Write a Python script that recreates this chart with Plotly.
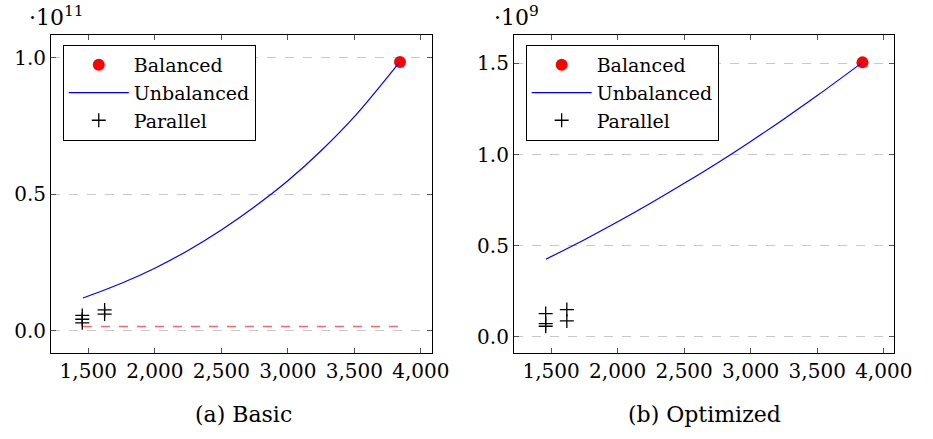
import plotly.graph_objects as go

# ---- data (y in units of the axis multiplier) ----
basic_unbal_x = [1460, 1750, 2000, 2250, 2500, 2750, 3000, 3250, 3500, 3840]
basic_unbal_y = [0.121, 0.175, 0.23, 0.295, 0.37, 0.455, 0.55, 0.66, 0.785, 0.985]
basic_bal_x = [3843]
basic_bal_y = [0.985]
basic_par_x = [1455, 1455, 1455, 1623, 1623]
basic_par_y = [0.057, 0.043, 0.030, 0.077, 0.062]
basic_ref_x = [1460, 3845]
basic_ref_y = [0.016, 0.016]

opt_unbal_x = [1460, 1750, 2000, 2250, 2500, 2750, 3000, 3250, 3500, 3840]
opt_unbal_y = [0.426, 0.533, 0.631, 0.734, 0.842, 0.954, 1.072, 1.195, 1.323, 1.505]
opt_bal_x = [3840]
opt_bal_y = [1.505]
opt_par_x = [1459, 1459, 1459, 1618, 1618]
opt_par_y = [0.128, 0.0735, 0.0587, 0.150, 0.0878]

W, H = 933, 439
FONT = "DejaVu Serif"

fig = go.Figure()

def add_panel(xa, ya, leg, bx, by, ux, uy, px, py):
    fig.add_trace(go.Scatter(x=bx, y=by, mode="markers", name="Balanced",
                             marker=dict(color="red", size=12), xaxis=xa, yaxis=ya, legend=leg))
    fig.add_trace(go.Scatter(x=ux, y=uy, mode="lines", name="Unbalanced",
                             line=dict(color="blue", width=1.2, shape="spline"),
                             xaxis=xa, yaxis=ya, legend=leg))
    fig.add_trace(go.Scatter(x=px, y=py, mode="markers", name="Parallel",
                             marker=dict(symbol="cross-thin", size=10, color="black",
                                         line=dict(color="black", width=1.3)),
                             xaxis=xa, yaxis=ya, legend=leg))

add_panel("x", "y", "legend", basic_bal_x, basic_bal_y, basic_unbal_x, basic_unbal_y,
          basic_par_x, basic_par_y)
fig.add_trace(go.Scatter(x=basic_ref_x, y=basic_ref_y, mode="lines", showlegend=False,
                         line=dict(color="rgba(240,80,80,0.85)", width=1.5, dash="dash"),
                         xaxis="x", yaxis="y"))
add_panel("x2", "y2", "legend2", opt_bal_x, opt_bal_y, opt_unbal_x, opt_unbal_y,
          opt_par_x, opt_par_y)

ydom = [1 - 353 / H, 1 - 35 / H]
tickfont = dict(family=FONT, size=20, color="black")
common_x = dict(range=[1220, 4080], tickvals=[1500, 2000, 2500, 3000, 3500, 4000],
                tickformat=",d", showline=True, linecolor="black", linewidth=1,
                mirror="allticks", ticks="inside", ticklen=5, tickcolor="#555",
                showgrid=False, zeroline=False, tickfont=tickfont)
common_y = dict(showline=True, linecolor="black", linewidth=1, mirror="allticks",
                ticks="inside", ticklen=5, tickcolor="#555", tickformat=".1f",
                showgrid=True, gridcolor="#c8c8c8", griddash="dash", gridwidth=1,
                zeroline=False, domain=ydom, tickfont=tickfont)

leg_common = dict(bordercolor="black", borderwidth=1, bgcolor="white",
                  font=dict(family=FONT, size=19, color="black"),
                  xanchor="left", yanchor="top", itemwidth=60, tracegroupgap=0)

fig.update_layout(
    width=W, height=H, margin=dict(l=0, r=0, t=0, b=0),
    plot_bgcolor="white", paper_bgcolor="white",
    font=dict(family=FONT, size=20, color="black"),
    xaxis=dict(common_x, domain=[52 / W, 440 / W], anchor="y"),
    yaxis=dict(common_y, range=[-0.0806, 1.084], tickvals=[0, 0.5, 1.0], anchor="x"),
    xaxis2=dict(common_x, domain=[524 / W, 912 / W], anchor="y2"),
    yaxis2=dict(common_y, range=[-0.0878, 1.655], tickvals=[0, 0.5, 1.0, 1.5], anchor="x2"),
    legend=dict(leg_common, x=64 / W, y=1 - 45 / H),
    legend2=dict(leg_common, x=536 / W, y=1 - 45 / H),
    annotations=[
        dict(text="·10<sup>11</sup>", x=28 / W, y=1 - 16 / H, xref="paper", yref="paper",
             xanchor="left", yanchor="middle", showarrow=False,
             font=dict(family=FONT, size=22, color="black")),
        dict(text="·10<sup>9</sup>", x=502 / W, y=1 - 16 / H, xref="paper", yref="paper",
             xanchor="left", yanchor="middle", showarrow=False,
             font=dict(family=FONT, size=22, color="black")),
        dict(text="(a) Basic", x=248 / W, y=1 - 414 / H, xref="paper", yref="paper",
             xanchor="center", yanchor="middle", showarrow=False,
             font=dict(family=FONT, size=22, color="black")),
        dict(text="(b) Optimized", x=718 / W, y=1 - 414 / H, xref="paper", yref="paper",
             xanchor="center", yanchor="middle", showarrow=False,
             font=dict(family=FONT, size=22, color="black")),
    ],
)

fig.write_html("out.html")
